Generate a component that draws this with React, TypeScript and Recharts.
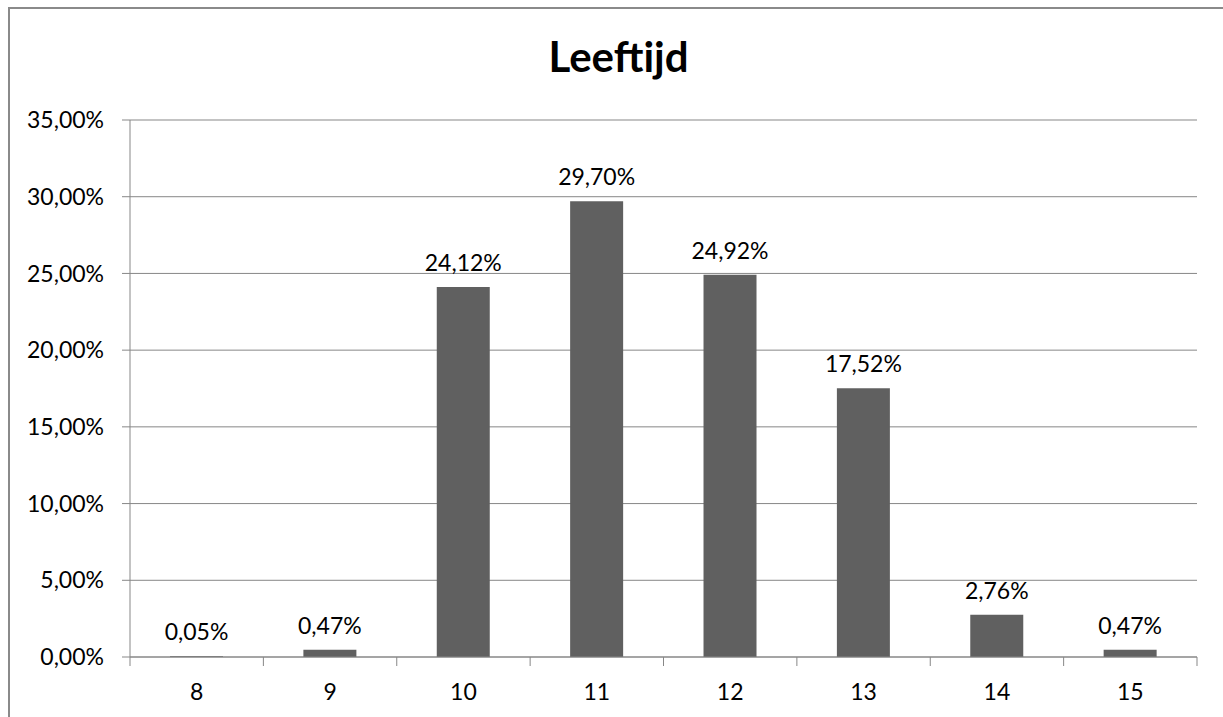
import { BarChart, Bar, XAxis, YAxis, CartesianGrid, LabelList } from 'recharts';

// Leeftijd (age) distribution, percent of respondents
const ages = ['8', '9', '10', '11', '12', '13', '14', '15'];
const shares = [0.05, 0.47, 24.12, 29.7, 24.92, 17.52, 2.76, 0.47];
const yTicks = [0, 5, 10, 15, 20, 25, 30, 35];

const data = ages.map((age, i) => ({ age, share: shares[i] }));

const W = 1223;
const H = 717;
const MARGIN = { top: 120, right: 26, bottom: 30, left: 30 };
const Y_AXIS_W = 100;
const X_AXIS_H = 30;
const AXIS_Y = H - MARGIN.bottom - X_AXIS_H;
const BAND = (W - MARGIN.left - Y_AXIS_W - MARGIN.right) / ages.length;

const FONT = 'Lato, "Open Sans", sans-serif';
const GRAY = '#878787';

const pct = (v: number) => v.toFixed(2).replace('.', ',') + '%';

// x ticks sit on the band edges, labels in the middle
const XTick = (props: any) => {
  const { x, payload, index } = props;
  const last = index === ages.length - 1;
  return (
    <g>
      <line x1={x - BAND / 2} x2={x - BAND / 2} y1={AXIS_Y} y2={AXIS_Y + 9} stroke={GRAY} />
      {last && <line x1={x + BAND / 2} x2={x + BAND / 2} y1={AXIS_Y} y2={AXIS_Y + 9} stroke={GRAY} />}
      <text x={x} y={AXIS_Y + 43} textAnchor="middle" fill="#000" fontSize={23} fontFamily={FONT}>
        {payload.value}
      </text>
    </g>
  );
};

export default function App() {
  return (
    <div style={{ position: 'fixed', left: 0, top: 0, width: W, height: H, overflow: 'hidden', background: '#fff' }}>
      {/* chart frame: only the left and top edges fall inside the picture */}
      <div
        style={{
          position: 'absolute',
          left: 8,
          top: 7,
          width: 1300,
          height: 800,
          borderLeft: '2px solid #8a8a8a',
          borderTop: '2px solid #8a8a8a',
          boxSizing: 'border-box',
        }}
      />
      <div
        style={{
          position: 'absolute',
          left: 9,
          top: 31,
          width: 1219,
          textAlign: 'center',
          fontFamily: FONT,
          fontWeight: 'bold',
          fontSize: 42,
          lineHeight: 1.2,
          color: '#000',
        }}
      >
        Leeftijd
      </div>
      <div style={{ position: 'absolute', left: 0, top: 0 }}>
        <BarChart width={W} height={H} data={data} margin={MARGIN} barCategoryGap="30%">
          <CartesianGrid vertical={false} stroke={GRAY} />
          <XAxis
            dataKey="age"
            height={X_AXIS_H}
            axisLine={{ stroke: GRAY }}
            tickLine={false}
            tick={<XTick />}
            interval={0}
          />
          <YAxis
            width={Y_AXIS_W}
            domain={[0, 35]}
            ticks={yTicks}
            tickFormatter={pct}
            axisLine={{ stroke: GRAY }}
            tickLine={{ stroke: GRAY }}
            tickSize={8}
            tickMargin={18}
            tick={{ fill: '#000', fontSize: 23, fontFamily: FONT }}
            interval={0}
          />
          <Bar dataKey="share" fill="#606060" isAnimationActive={false}>
            <LabelList
              dataKey="share"
              position="top"
              offset={16}
              formatter={(v: any) => pct(Number(v))}
              fill="#000"
              fontSize={23}
              fontFamily={FONT}
            />
          </Bar>
        </BarChart>
      </div>
    </div>
  );
}
